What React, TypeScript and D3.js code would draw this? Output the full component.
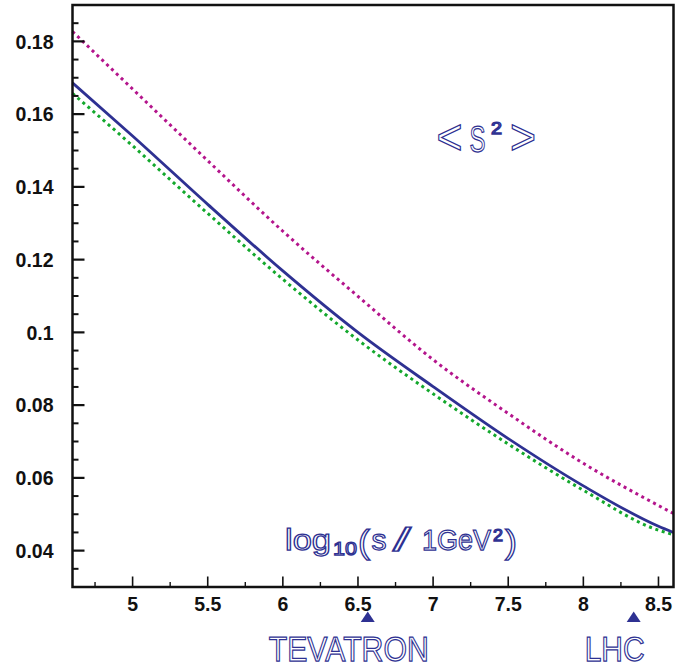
import React from 'react';
import * as d3 from 'd3';

const xValues = [4.6, 5.0, 5.5, 6.0, 6.5, 7.0, 7.5, 8.0, 8.5, 8.6];
const solidBlue = [0.1686, 0.154, 0.1352, 0.1169, 0.1, 0.0851, 0.0708, 0.0578, 0.0467, 0.045];
const dottedMagenta = [0.1827, 0.1669, 0.1472, 0.1278, 0.1099, 0.0925, 0.0777, 0.064, 0.0524, 0.0502];
const dottedGreen = [0.1657, 0.1513, 0.1327, 0.1146, 0.0979, 0.0831, 0.0693, 0.0566, 0.0456, 0.0444];
const xTickLabels = ['5', '5.5', '6', '6.5', '7', '7.5', '8', '8.5'];
const yTickLabels = ['0.04', '0.06', '0.08', '0.1', '0.12', '0.14', '0.16', '0.18'];
const markerNames = ['TEVATRON', 'LHC'];
const markerX = [6.565, 8.335];

const W = 690, H = 666;
const L = 72.5, R = 673.5, T = 5, B = 587;
const BLUE = '#2e3192';
const FONT = '"Liberation Sans", Arial, Helvetica, sans-serif';

export default function App() {
  const x = d3.scaleLinear().domain([4.6, 8.6]).range([L, R]);
  const y = d3.scaleLinear().domain([0.03, 0.19]).range([B, T]);
  const line = d3.line<[number, number]>().x(d => x(d[0])).y(d => y(d[1])).curve(d3.curveMonotoneX);
  const mk = (vals: number[]) => line(xValues.map((v, i) => [v, vals[i]] as [number, number])) || '';

  const xMinor = d3.range(4.75, 8.6, 0.25).filter(v => Math.abs(v * 2 - Math.round(v * 2)) > 1e-6);
  const yMinor = d3.range(0.035, 0.19, 0.005).filter(v => Math.abs(v * 50 - Math.round(v * 50)) > 1e-6);

  const tickFont = { fontFamily: FONT, fontWeight: 700, fontSize: 19.5, fill: '#111' } as const;
  const outline = { fontFamily: FONT, fontWeight: 400, fill: '#fff', stroke: BLUE, strokeWidth: 1.25 } as const;

  const O = (props: any) => {
    const { children, fs, tl, ...rest } = props;
    return (
      <text {...rest} style={{ ...outline, fontSize: fs }} textLength={tl} lengthAdjust={tl ? 'spacingAndGlyphs' : undefined}>
        {children}
      </text>
    );
  };

  return (
    <svg width={W} height={H} style={{ position: 'absolute', left: 0, top: 0, background: '#fff' }}>
      <rect x={0} y={0} width={W} height={H} fill="#fff" />
      {/* curves */}
      <path d={mk(dottedMagenta)} fill="none" stroke="#b4158c" strokeWidth={3} strokeDasharray="3 3.7" />
      <path d={mk(dottedGreen)} fill="none" stroke="#13a82c" strokeWidth={3} strokeDasharray="3 3.7" />
      <path d={mk(solidBlue)} fill="none" stroke={BLUE} strokeWidth={2.8} />

      {/* frame */}
      <rect x={L} y={T} width={R - L} height={B - T} fill="none" stroke="#111" strokeWidth={2.5} />

      {/* y ticks */}
      {yTickLabels.map(t => {
        const v = +t;
        return (
          <g key={t}>
            <line x1={L} x2={L + 12} y1={y(v)} y2={y(v)} stroke="#111" strokeWidth={2.2} />
            <text x={53.5} y={y(v) + 7.2} textAnchor="end" style={tickFont}>{t}</text>
          </g>
        );
      })}
      {yMinor.map(v => (
        <line key={v} x1={L} x2={L + 6} y1={y(v)} y2={y(v)} stroke="#111" strokeWidth={2} />
      ))}

      {/* x ticks */}
      {xTickLabels.map(t => {
        const v = +t;
        return (
          <g key={t}>
            <line x1={x(v)} x2={x(v)} y1={B} y2={B - 10.5} stroke="#111" strokeWidth={1.6} />
            <text x={x(v)} y={610.5} textAnchor="middle" style={tickFont}>{t}</text>
          </g>
        );
      })}
      {xMinor.map(v => (
        <line key={v} x1={x(v)} x2={x(v)} y1={B} y2={B - 5} stroke="#111" strokeWidth={1.4} />
      ))}

      {/* markers */}
      {markerNames.map((n, i) => {
        const cx = x(markerX[i]);
        return (
          <g key={n}>
            <path d={`M${cx - 7},622 L${cx + 7},622 L${cx},611.5 Z`} fill={BLUE} />
            <O x={cx - 19} y={660.5} textAnchor="middle" fs={35} tl={n === 'LHC' ? 60 : 160}>{n}</O>
          </g>
        );
      })}

      {/* x axis title: log10(s / 1GeV^2) */}
      <g>
        <O x={285} y={550} fs={30} tl={46}>log</O>
        <O x={333} y={555} fs={19} tl={24}>10</O>
        <O x={358} y={553} fs={34} tl={12}>(</O>
        <O x={371.5} y={550} fs={30} tl={15}>s</O>
        <O x={393} y={551} fs={33} tl={18}>/</O>
        <O x={422} y={550} fs={30} tl={69}>1GeV</O>
        <O x={493} y={541} fs={16} tl={10}>2</O>
        <O x={505} y={553} fs={34} tl={12}>)</O>
      </g>

      {/* <S^2> */}
      <g>
        <O x={436.5} y={154} fs={50} tl={26}>&lt;</O>
        <O x={469.5} y={151.5} fs={36} tl={16}>S</O>
        <O x={491} y={134} fs={16} tl={11}>2</O>
        <O x={510} y={154} fs={50} tl={26}>&gt;</O>
      </g>
    </svg>
  );
}
